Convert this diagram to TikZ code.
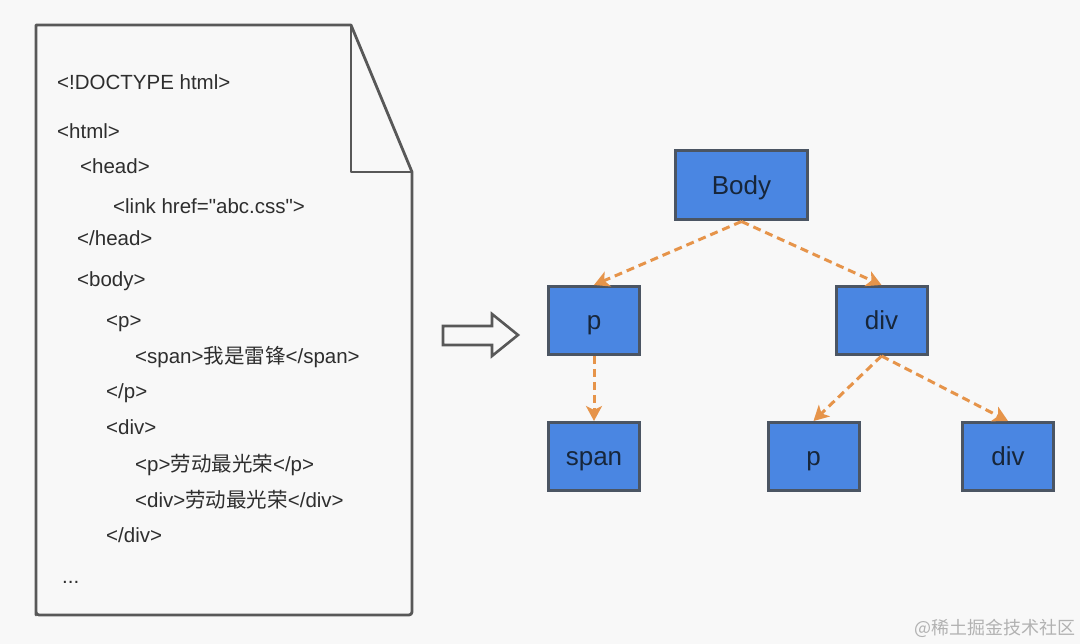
\documentclass[tikz,border=0pt]{standalone}
\usepackage{fontspec}
\setmainfont{Liberation Sans}[Ligatures=TeXOff]
\newfontfamily\cjk{Noto Sans CJK SC}
\usetikzlibrary{arrows.meta}
\definecolor{bgc}{HTML}{F8F8F8}
\definecolor{boxfill}{HTML}{4A86E2}
\definecolor{boxline}{HTML}{4B5563}
\definecolor{boxtext}{HTML}{17263A}
\definecolor{arr}{HTML}{E6944A}
\definecolor{docline}{HTML}{585858}
\definecolor{codetext}{HTML}{2E2E2E}
\tikzset{
  treebox/.style={draw=boxline, line width=3pt, fill=boxfill, text=boxtext,
    minimum width=91pt, minimum height=68pt, inner sep=0pt,
    text height=22pt, text depth=3pt,
    font=\fontsize{26}{30}\selectfont},
  code/.style={anchor=base west, inner sep=0pt, text=codetext,
    font=\fontsize{20.5}{24}\selectfont},
  edge/.style={draw=arr, line width=3pt, dash pattern=on 8pt off 5pt,
    -{Stealth[length=15pt,width=16pt,inset=4pt]}},
}
\begin{document}
\begin{tikzpicture}[x=1pt,y=-1pt]
\fill[bgc] (0,0) rectangle (1080,644);
\useasboundingbox (0,0) rectangle (1080,644);
% document
\draw[docline, line width=2.8pt, line join=round]
  (36,25) -- (351,25) -- (412,172) -- (412,612) [rounded corners=3pt] -- (412,615) -- (36,615) -- (36,612) [sharp corners] -- cycle;
\draw[docline, line width=2.8pt, line join=round] (351,25) -- (351,172) -- (412,172);
% code lines
\node[code] (t1) at (57,90) {<!DOCTYPE html>};
\node[code] (t2) at (57,139) {<html>};
\node[code] (t3) at (80,174) {<head>};
\node[code] (t4) at (113,214) {<link href="abc.css">};
\node[code] (t5) at (77,245.5) {</head>};
\node[code] (t6) at (77,286.5) {<body>};
\node[code] (t7) at (106,328) {<p>};
\node[code] (t8) at (135,364) {<span>{\cjk 我是雷锋}</span>};
\node[code] (t9) at (106,399) {</p>};
\node[code] (t10) at (106,435) {<div>};
\node[code] (t11) at (135,471.5) {<p>{\cjk 劳动最光荣}</p>};
\node[code] (t12) at (135,507.5) {<div>{\cjk 劳动最光荣}</div>};
\node[code] (t13) at (106,542.5) {</div>};
\node[code] (t14) at (62,583) {...};
% hollow arrow
\draw[docline, line width=2.6pt, line join=miter]
  (443,326) -- (492,326) -- (492,314) -- (518,335) -- (492,356) -- (492,345) -- (443,345) -- cycle;
% tree
\node[treebox, minimum width=132pt, minimum height=69pt] (body) at (741.5,185.5) {Body};
\node[treebox] (p1) at (594,320.5) {p};
\node[treebox] (div1) at (881.5,320.5) {div};
\node[treebox] (span) at (594,456.5) {span};
\node[treebox] (p2) at (813.5,456.5) {p};
\node[treebox] (div2) at (1008,456.5) {div};
\draw[edge] (body.south) -- (p1.north);
\draw[edge] (body.south) -- (div1.north);
\draw[edge] (p1.south) -- (span.north);
\draw[edge] (div1.south) -- (p2.north);
\draw[edge] (div1.south) -- (div2.north);
% watermark
\node[anchor=base east, inner sep=0pt, text=black!30, font=\cjk\fontsize{18}{20}\selectfont] (wm) at (1076,634) {@稀土掘金技术社区};
\end{tikzpicture}
\end{document}
